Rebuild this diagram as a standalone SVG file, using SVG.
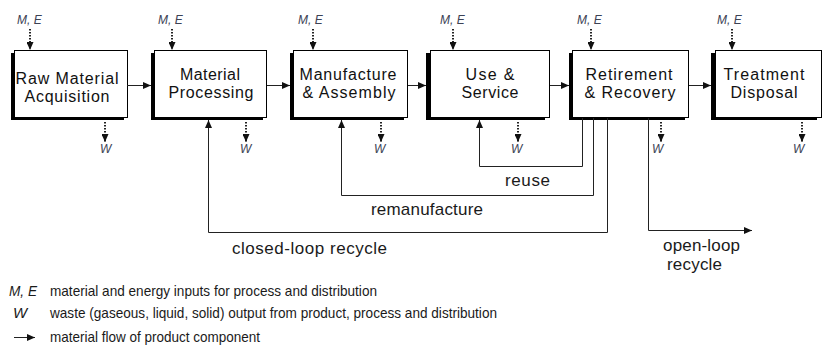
<svg xmlns="http://www.w3.org/2000/svg" width="823" height="349" viewBox="0 0 823 349">
<style>
.bx{fill:#fff;stroke:#000;stroke-width:1}
.sh{fill:#000}
.bt{font-family:"Liberation Sans",Arial,sans-serif;font-size:16px;fill:#111;text-anchor:middle}
.it{font-family:"Liberation Sans",Arial,sans-serif;font-size:12px;font-style:italic;fill:#3c4255}
.lb{font-family:"Liberation Sans",Arial,sans-serif;font-size:17px;fill:#1a1a1a}
.lg{font-family:"Liberation Sans",Arial,sans-serif;font-size:15px;fill:#1a1a1a}
.lgi{font-family:"Liberation Sans",Arial,sans-serif;font-size:15px;font-style:italic;fill:#1a1a1a}
.fl{fill:none;stroke:#222;stroke-width:1;marker-end:url(#ah)}
.dt{fill:none;stroke:#222;stroke-width:2;stroke-dasharray:1.5 1.5;marker-end:url(#ah)}
</style>
<defs>
<marker id="ah" viewBox="0 0 8 7" refX="8" refY="3.5" markerWidth="8" markerHeight="7" markerUnits="userSpaceOnUse" orient="auto">
<path d="M0,0 L8,3.5 L0,7 z" fill="#111"/>
</marker>
</defs>

<g id="node-raw">
<rect class="sh" x="11" y="53" width="113" height="67"/>
<rect class="bx" x="14.5" y="50.5" width="113" height="67"/>
<text class="bt" x="67" y="84" textLength="103">Raw Material</text>
<text class="bt" x="67" y="102" textLength="85">Acquisition</text>
</g>
<g id="node-processing">
<rect class="sh" x="151" y="53" width="112" height="67"/>
<rect class="bx" x="154.5" y="50.5" width="112" height="67"/>
<text class="bt" x="210" y="80" textLength="60">Material</text>
<text class="bt" x="211" y="98" textLength="85">Processing</text>
</g>
<g id="node-manufacture">
<rect class="sh" x="290" y="53" width="114" height="67"/>
<rect class="bx" x="293.5" y="50.5" width="114" height="67"/>
<text class="bt" x="348" y="80" textLength="97">Manufacture</text>
<text class="bt" x="349" y="98" textLength="93">&amp; Assembly</text>
</g>
<g id="node-use">
<rect class="sh" x="426" y="53" width="119" height="67"/>
<rect class="bx" x="430.5" y="50.5" width="119" height="67"/>
<text class="bt" x="490" y="80" textLength="49">Use &amp;</text>
<text class="bt" x="490" y="98" textLength="57">Service</text>
</g>
<g id="node-retirement">
<rect class="sh" x="569" y="53" width="116" height="67"/>
<rect class="bx" x="572.5" y="50.5" width="116" height="67"/>
<text class="bt" x="629" y="80" textLength="87">Retirement</text>
<text class="bt" x="630" y="98" textLength="91">&amp; Recovery</text>
</g>
<g id="node-treatment">
<rect class="sh" x="711" y="53" width="106" height="67"/>
<rect class="bx" x="715.5" y="50.5" width="106" height="67"/>
<text class="bt" x="764" y="80" textLength="81">Treatment</text>
<text class="bt" x="764" y="98" textLength="67">Disposal</text>
</g>

<g id="inputs-outputs">
<text class="it" x="17" y="24">M, E</text>
<text class="it" x="158" y="24">M, E</text>
<text class="it" x="298" y="24">M, E</text>
<text class="it" x="440" y="24">M, E</text>
<text class="it" x="577" y="24">M, E</text>
<text class="it" x="717" y="24">M, E</text>
<text class="it" x="100" y="153">W</text>
<text class="it" x="240" y="153">W</text>
<text class="it" x="374" y="153">W</text>
<text class="it" x="511" y="153">W</text>
<text class="it" x="652" y="153">W</text>
<text class="it" x="793" y="153">W</text>
</g>

<g id="connectors">
<line class="dt" x1="30" y1="29" x2="30" y2="50"/>
<line class="dt" x1="172" y1="29" x2="172" y2="50"/>
<line class="dt" x1="313" y1="29" x2="313" y2="50"/>
<line class="dt" x1="453" y1="29" x2="453" y2="50"/>
<line class="dt" x1="591" y1="29" x2="591" y2="50"/>
<line class="dt" x1="732" y1="29" x2="732" y2="50"/>
<line class="dt" x1="105" y1="122" x2="105" y2="142"/>
<line class="dt" x1="246" y1="122" x2="246" y2="142"/>
<line class="dt" x1="381" y1="122" x2="381" y2="142"/>
<line class="dt" x1="518" y1="122" x2="518" y2="142"/>
<line class="dt" x1="661" y1="122" x2="661" y2="142"/>
<line class="dt" x1="802" y1="122" x2="802" y2="142"/>

<line class="fl" x1="127" y1="85.5" x2="151" y2="85.5"/>
<line class="fl" x1="267" y1="85.5" x2="290" y2="85.5"/>
<line class="fl" x1="408" y1="85.5" x2="426" y2="85.5"/>
<line class="fl" x1="550" y1="85.5" x2="569" y2="85.5"/>
<line class="fl" x1="689" y1="85.5" x2="711" y2="85.5"/>

<path class="fl" d="M582.5,118 V166.5 H479.5 V120"/>
<path class="fl" d="M593.5,118 V195.5 H341.5 V120"/>
<path class="fl" d="M607.5,118 V232.5 H208.5 V120"/>
<path class="fl" d="M648.5,118 V230.5 H752"/>
</g>

<g id="labels">
<text class="lb" x="505" y="186" textLength="45">reuse</text>
<text class="lb" x="371" y="215" textLength="112">remanufacture</text>
<text class="lb" x="232" y="254" textLength="155">closed-loop recycle</text>
<text class="lb" x="663" y="251" textLength="77">open-loop</text>
<text class="lb" x="667" y="270" textLength="55">recycle</text>
</g>

<g id="legend">
<text class="lgi" x="9" y="296" textLength="28" lengthAdjust="spacingAndGlyphs">M, E</text>
<text class="lg" x="50" y="296" textLength="327" lengthAdjust="spacingAndGlyphs">material and energy inputs for process and distribution</text>
<text class="lgi" x="13" y="318">W</text>
<text class="lg" x="50" y="318" textLength="447" lengthAdjust="spacingAndGlyphs">waste (gaseous, liquid, solid) output from product, process and distribution</text>
<line class="fl" x1="14" y1="337.5" x2="35" y2="337.5"/>
<text class="lg" x="50" y="342" textLength="210" lengthAdjust="spacingAndGlyphs">material flow of product component</text>
</g>
</svg>
